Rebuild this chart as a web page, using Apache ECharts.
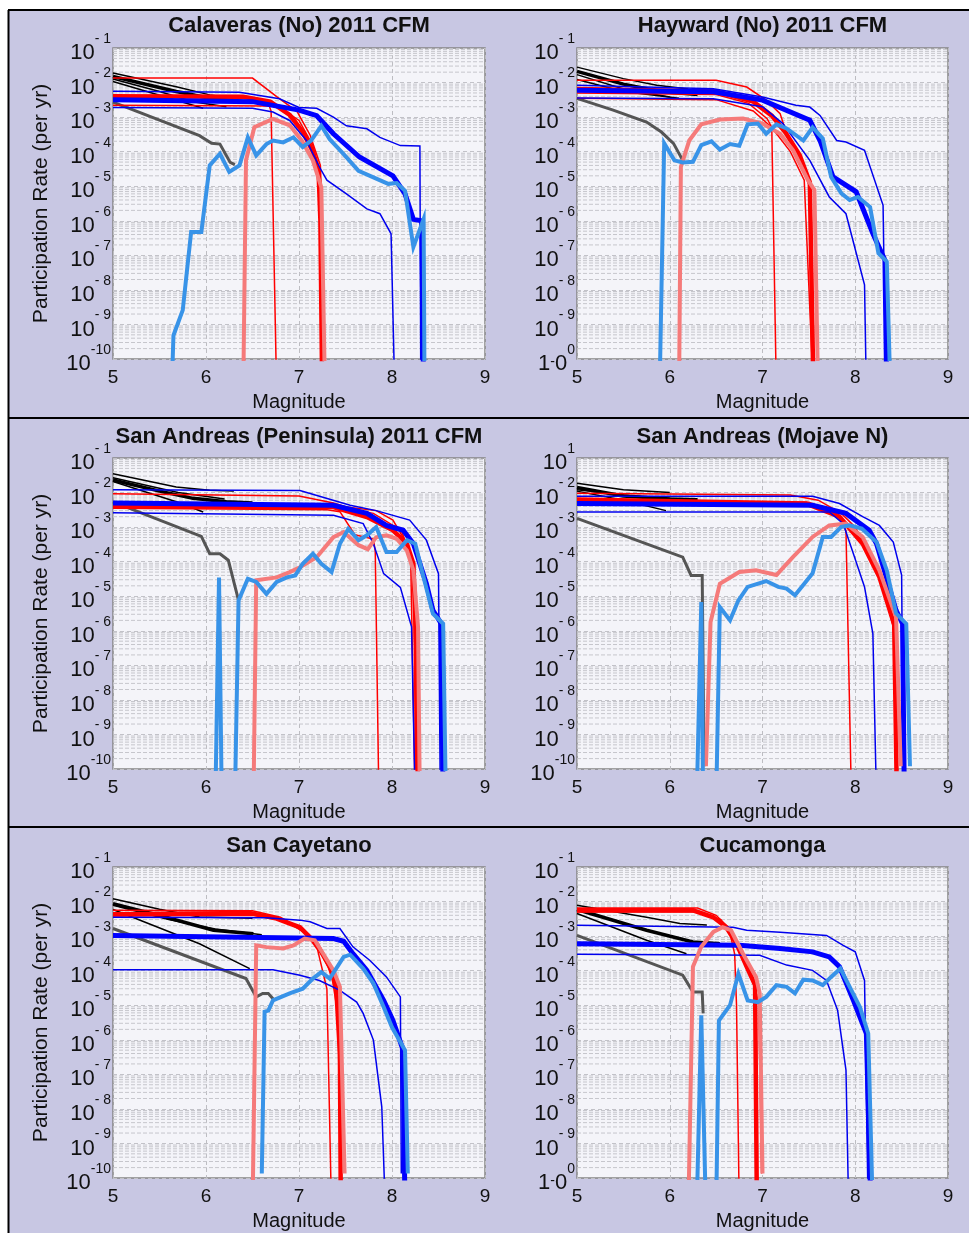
<!DOCTYPE html>
<html>
<head>
<meta charset="utf-8">
<script src="https://cdn.jsdelivr.net/npm/echarts@6.0.0/dist/echarts.min.js"></script>
<style>
html, body { margin: 0; padding: 0; background: #fff; }
#chart { width: 969px; height: 1233px; }
</style>
</head>
<body>
<div id="chart"></div>
<script>
// ---- tick labels / titles ----
var magTicks = [5, 6, 7, 8, 9];
var yExponents = [-1, -2, -3, -4, -5, -6, -7, -8, -9, -10];
var yExpText = ['- 1', '- 2', '- 3', '- 4', '- 5', '- 6', '- 7', '- 8', '- 9', '-10'];
var minorSteps = [2, 3, 4, 5, 6, 7, 8, 9];
var panelTitles = ['Calaveras (No) 2011 CFM', 'Hayward (No) 2011 CFM', 'San Andreas (Peninsula) 2011 CFM',
                   'San Andreas (Mojave N)', 'San Cayetano', 'Cucamonga'];

// ---- Calaveras (No) ----
var calBlackThin = [
  [[5,1.9e-2],[5.68,7.6e-3],[6.04,4.4e-3],[6.35,3.4e-3]],
  [[5,1.26e-2],[5.5,5.5e-3],[5.86,2.8e-3],[6.22,2.0e-3]],
  [[5,1.07e-2],[5.5,4.3e-3],[5.97,1.8e-3]]
];
var calBlackThick = [[5,1.5e-2],[5.68,5.5e-3],[6.04,3.5e-3],[6.4,2.8e-3]];
var calGray = [[5,2.7e-3],[5.93,2.9e-4],[6.06,1.74e-4],[6.15,1.66e-4],[6.26,4.9e-5],[6.31,4.2e-5]];
var calRedThin = [
  [[5,1.35e-2],[6.5,1.35e-2],[6.76,3.9e-3],[6.98,1.45e-3],[7.12,3e-4],[7.23,4e-5],[7.25,1e-6],[7.26,1e-11]],
  [[5,2.2e-3],[6.68,2.1e-3],[6.7,1.5e-3],[6.76,1e-11]],
  [[5,3e-3],[6.5,2.9e-3],[6.8,1.9e-3],[7.0,8e-4],[7.15,1.5e-4],[7.24,1e-5],[7.27,1e-11]]
];
var calRedThick = [[5,4e-3],[6.4,3.9e-3],[6.69,2.8e-3],[6.9,1.15e-3],[7.04,3.8e-4],[7.15,1e-4],[7.21,2.8e-5],[7.23,1e-6],[7.25,1e-11]];
var calBlueThin = [
  [[5,5.6e-3],[6.36,5.2e-3],[6.79,3.4e-3],[7.0,1.9e-3],[7.19,1.8e-3],[7.37,1e-3],[7.51,5.6e-4],[7.73,4.6e-4],[7.87,2.6e-4],[8.09,1.5e-4],[8.3,1.45e-4],[8.31,1e-11]],
  [[5,1.9e-3],[6.5,1.8e-3],[6.72,1.4e-3],[6.9,8e-4],[7.08,2.1e-4],[7.22,3.6e-5],[7.3,1.5e-5],[7.51,6e-6],[7.73,2.2e-6],[7.87,1.6e-6],[7.99,4.2e-7],[8.03,1e-11]]
];
var calBlueThick = [[5,3.2e-3],[6.5,2.8e-3],[7.0,1.6e-3],[7.19,1.1e-3],[7.37,3.3e-4],[7.65,7e-5],[8.01,2e-5],[8.14,6e-6],[8.23,1.1e-6],[8.32,1e-6],[8.34,1e-11]];
var calLightRed = [[6.4,1e-11],[6.43,5.6e-5],[6.52,5.1e-4],[6.72,8.9e-4],[6.9,5.8e-4],[7.03,2.1e-4],[7.15,5.5e-5],[7.24,9.3e-6],[7.28,1e-11]];
var calLightBlue = [[5.63,1e-11],[5.65,4.8e-10],[5.75,2.6e-9],[5.84,4.7e-7],[5.95,4.7e-7],[6.04,4e-5],[6.15,8.7e-5],[6.25,2.6e-5],[6.36,4e-5],[6.45,2.6e-4],[6.54,7.8e-5],[6.65,1.66e-4],[6.72,2.1e-4],[6.83,1.86e-4],[6.94,2.6e-4],[7.04,1.35e-4],[7.13,2.1e-4],[7.24,5.6e-4],[7.33,2.3e-4],[7.48,8.5e-5],[7.64,2.8e-5],[7.8,1.8e-5],[7.96,1.17e-5],[8.05,1.23e-5],[8.14,7.4e-6],[8.23,1.74e-7],[8.34,1.12e-6],[8.35,1e-11]];

// ---- Hayward (No) ----
var hayBlackThin = [
  [[5,2.8e-2],[5.5,1.3e-2],[5.86,8.3e-3],[6.2,6.5e-3]],
  [[5,1.7e-2],[5.5,6.5e-3],[6.0,3.8e-3]],
  [[5,1.23e-2],[5.5,5.5e-3],[6.1,3.5e-3]]
];
var hayBlackThick = [[5,2.1e-2],[5.5,9e-3],[5.9,5.5e-3],[6.3,4.5e-3]];
var hayGray = [[5,3.5e-3],[5.39,1.6e-3],[5.75,7.2e-4],[5.91,3.7e-4],[6.04,1.74e-4],[6.14,5.6e-5]];
var hayRedThin = [
  [[5,1.17e-2],[6.5,1.17e-2],[6.83,7.4e-3],[7.04,3.1e-3],[7.19,1.26e-3],[7.26,3.3e-4],[7.4,5.6e-5],[7.51,9.5e-6],[7.54,1e-11]],
  [[5,5e-3],[6.5,4.5e-3],[6.85,2.5e-3],[7.05,9e-4],[7.1,5e-4],[7.15,1e-11]],
  [[5,3.5e-3],[6.5,3.2e-3],[6.9,1.5e-3],[7.1,5e-4],[7.3,1e-4],[7.45,1.5e-5],[7.55,1e-11]]
];
var hayRedThick = [[5,6.5e-3],[6.5,5.5e-3],[6.9,2.8e-3],[7.1,1.1e-3],[7.25,3.5e-4],[7.4,8e-5],[7.51,1.3e-5],[7.55,1e-11]];
var hayBlueThin = [
  [[5,8.3e-3],[6.47,6.6e-3],[7.0,3.8e-3],[7.36,2.2e-3],[7.51,1.95e-3],[7.62,1.12e-3],[7.8,2.1e-4],[7.9,1.9e-4],[8.1,1.1e-4],[8.3,2.8e-6],[8.33,1e-11]],
  [[5,3.6e-3],[6.47,3.4e-3],[7.0,2e-3],[7.22,6.5e-4],[7.51,5.6e-5],[7.72,4.9e-6],[7.9,1.6e-6],[8.1,1.4e-8],[8.12,1e-11]]
];
var hayBlueThick = [[5,6e-3],[6.47,5.4e-3],[7.0,3.1e-3],[7.51,8.1e-4],[7.62,2.1e-4],[7.76,1.86e-5],[8.01,6.9e-6],[8.19,4.3e-7],[8.32,7.2e-8],[8.34,1e-11]];
var hayLightRed = [[6.1,1e-11],[6.12,3.6e-5],[6.21,2.1e-4],[6.34,6.2e-4],[6.54,8.5e-4],[6.79,9.1e-4],[7.0,6.5e-4],[7.19,3.3e-4],[7.33,1.1e-4],[7.49,1.5e-5],[7.56,7.8e-6],[7.6,1e-11]];
var hayLightBlue = [[5.89,1e-11],[5.94,1.74e-4],[6.05,5.6e-5],[6.14,4.9e-5],[6.25,5.1e-5],[6.34,1.55e-4],[6.45,2e-4],[6.54,1.15e-4],[6.65,1.66e-4],[6.75,1.48e-4],[6.84,6.2e-4],[6.95,6.5e-4],[7.04,3.3e-4],[7.15,6.2e-4],[7.26,4.7e-4],[7.44,2.1e-4],[7.54,5e-4],[7.65,2.4e-4],[7.74,1.86e-5],[7.85,6.2e-6],[7.94,4e-6],[8.03,4.9e-6],[8.16,2.5e-6],[8.25,1.15e-7],[8.34,6.6e-8],[8.38,1e-11]];

// ---- San Andreas (Peninsula) ----
var penBlackThin = [
  [[5,3.5e-2],[5.68,1.45e-2],[6.04,1.17e-2],[6.3,1.1e-2]],
  [[5,2.1e-2],[5.68,5.4e-3],[5.97,2.75e-3]],
  [[5,2.7e-2],[5.7,1e-2],[6.2,6.5e-3]]
];
var penBlackThick = [[5,2.3e-2],[5.5,1.1e-2],[5.86,6.8e-3],[6.22,5.4e-3],[6.5,5e-3]];
var penGray = [[5,5.4e-3],[5.95,5.4e-4],[6.04,1.7e-4],[6.15,1.7e-4],[6.24,1.1e-4],[6.35,7.6e-6]];
var penRedThin = [
  [[5,9.3e-3],[7.0,8e-3],[7.37,5e-3],[7.51,3.8e-3],[7.83,3e-3],[8.01,1.6e-3],[8.16,3.3e-4],[8.23,5.6e-5],[8.26,1e-11]],
  [[5,3.5e-3],[7.3,3.2e-3],[7.44,2.8e-3],[7.6,6e-4],[7.8,4.5e-4],[7.82,2e-4],[7.86,1e-11]],
  [[5,4.5e-3],[7.4,4e-3],[7.8,2.5e-3],[8.1,8e-4],[8.2,1.5e-4],[8.25,1e-11]]
];
var penRedThick = [[5,4e-3],[7.37,3.8e-3],[7.73,1.95e-3],[8.01,8.1e-4],[8.16,3.3e-4],[8.23,8.7e-5],[8.26,4e-7],[8.28,1e-11]];
var penBlueThin = [
  [[5,1.2e-2],[7.01,1.15e-2],[7.55,4.3e-3],[7.83,3e-3],[8.19,1.6e-3],[8.37,4.2e-4],[8.5,4.5e-5],[8.52,1e-11]],
  [[5,2.6e-3],[7.37,2.2e-3],[7.69,1.26e-3],[7.8,3.3e-4],[7.91,4.5e-5],[8.09,1.8e-5],[8.21,1.3e-6],[8.25,1e-11]]
];
var penBlueThick = [[5,5e-3],[7.37,4.3e-3],[7.73,2.5e-3],[7.94,1.12e-3],[8.12,8.1e-4],[8.23,3.3e-4],[8.37,2.3e-5],[8.44,3.9e-6],[8.53,1.6e-6],[8.55,1e-11]];
var penLightRed = [[6.51,1e-11],[6.54,2.9e-5],[6.76,3.5e-5],[6.9,5e-5],[7.01,6.9e-5],[7.19,1.35e-4],[7.37,5.1e-4],[7.48,7.2e-4],[7.64,3e-4],[7.74,2.3e-4],[7.83,5.1e-4],[7.94,5.8e-4],[8.05,4.6e-4],[8.16,2.1e-4],[8.23,5.6e-5],[8.28,1.3e-6],[8.3,1e-11]];
var penLightBlue = [[6.1,1e-11],[6.14,3.5e-5],[6.17,1e-11],[6.31,1e-11],[6.35,7.6e-6],[6.45,3.2e-5],[6.54,2.6e-5],[6.65,1.17e-5],[6.76,2.6e-5],[6.87,3.5e-5],[6.96,4e-5],[7.04,8.7e-5],[7.15,1.7e-4],[7.24,8.7e-5],[7.35,5e-5],[7.44,3.3e-4],[7.53,8.9e-4],[7.64,4.2e-4],[7.73,5.8e-4],[7.83,1e-3],[7.94,1.9e-4],[8.05,1.9e-4],[8.16,4.2e-4],[8.25,3.3e-4],[8.34,3.5e-5],[8.44,3.1e-6],[8.55,1.6e-6],[8.58,1e-11]];

// ---- San Andreas (Mojave N) ----
var mojBlackThin = [
  [[5,1.86e-2],[5.5,1.2e-2],[6.0,1e-2]],
  [[5,1.1e-2],[5.5,6e-3],[5.96,3e-3]],
  [[5,1.2e-2],[5.6,8e-3],[6.1,6.5e-3]]
];
var mojBlackThick = [[5,1.4e-2],[5.5,8e-3],[6.0,6.5e-3],[6.3,6.2e-3]];
var mojGray = [[5,1.8e-3],[6.14,1.35e-4],[6.23,4e-5],[6.35,4e-5],[6.37,1.2e-10]];
var mojRedThin = [
  [[5,9.5e-3],[7.3,8.5e-3],[7.6,6e-3],[7.85,2.5e-3],[8.0,1e-3],[8.15,2e-4],[8.3,2e-5],[8.42,1e-6],[8.45,1e-11]],
  [[5,5.9e-3],[7.5,5.2e-3],[7.8,2.5e-3],[7.9,8e-4],[7.96,1e-11]]
];
var mojRedThick = [[5,6.3e-3],[7.47,4.8e-3],[7.83,2e-3],[8.08,3.3e-4],[8.26,3.6e-5],[8.42,1.5e-6],[8.45,1e-11]];
var mojBlueThin = [
  [[5,7.8e-3],[7.54,7.8e-3],[7.83,4.8e-3],[8.08,2e-3],[8.26,1.12e-3],[8.41,3.7e-4],[8.5,4.1e-5],[8.52,1e-11]],
  [[5,2.75e-3],[7.72,2.75e-3],[7.87,1.26e-3],[7.98,1.7e-4],[8.1,1.86e-5],[8.19,8.3e-7],[8.23,1e-11]]
];
var mojBlueThick = [[5,4.8e-3],[7.54,4.3e-3],[7.9,2.5e-3],[8.15,8.1e-4],[8.23,3.3e-4],[8.44,3.9e-6],[8.51,1.6e-6],[8.53,1e-11]];
var mojLightRed = [[6.39,1.2e-10],[6.44,1.8e-6],[6.54,2.3e-5],[6.75,5e-5],[6.93,5.6e-5],[7.15,4.1e-5],[7.33,1.38e-4],[7.54,5.2e-4],[7.72,1.12e-3],[7.9,1.26e-3],[8.08,5.2e-4],[8.26,5.6e-5],[8.44,2.5e-6],[8.49,1.2e-10]];
var mojLightBlue = [[6.29,1e-11],[6.34,6.8e-6],[6.36,1e-11],[6.5,1e-11],[6.54,4.9e-6],[6.65,2e-6],[6.74,7.6e-6],[6.84,1.86e-5],[7.04,2.75e-5],[7.17,1.86e-5],[7.26,1.66e-5],[7.35,1.07e-5],[7.45,2.3e-5],[7.54,4.6e-5],[7.65,5.2e-4],[7.74,5.2e-4],[7.85,1.02e-3],[7.94,1.12e-3],[8.07,9.1e-4],[8.23,3.7e-4],[8.34,5.6e-5],[8.44,3.2e-6],[8.55,1.6e-6],[8.59,1.2e-10]];

// ---- San Cayetano ----
var cayBlackThin = [
  [[5,1.2e-2],[5.5,6e-3],[5.93,3.6e-3],[6.5,3.3e-3]],
  [[5,7.8e-3],[5.6,3e-3],[6.1,1.6e-3],[6.6,1.1e-3]],
  [[5,5.9e-3],[5.93,6e-4],[6.47,1.15e-4]]
];
var cayBlackThick = [[5,8.7e-3],[5.57,3.5e-3],[6.08,1.48e-3],[6.51,1.17e-3]];
var cayGray = [[5,1.66e-3],[6.43,5.9e-5],[6.54,1.74e-5],[6.61,2.2e-5],[6.67,2.2e-5],[6.72,1.55e-5]];
var cayRedThin = [
  [[5,5.6e-3],[6.5,5.4e-3],[6.8,3.5e-3],[7.05,1.5e-3],[7.2,4e-4],[7.3,3e-5],[7.35,1e-11]],
  [[5,3.8e-3],[6.5,4e-3],[6.85,2.8e-3],[7.05,1.3e-3],[7.2,5e-4],[7.35,8e-5],[7.42,5e-6],[7.45,1e-11]]
];
var cayRedThick = [[5,4.3e-3],[6.47,4.7e-3],[6.76,3.2e-3],[7.01,1.8e-3],[7.19,6e-4],[7.33,1.3e-4],[7.4,3.4e-5],[7.44,4e-7],[7.45,1e-11]];
var cayBlueThin = [
  [[5,3.5e-3],[6.65,3.4e-3],[7.01,2.9e-3],[7.12,2.6e-3],[7.3,1.66e-3],[7.44,1.66e-3],[7.58,4.9e-4],[7.76,2e-4],[7.94,6.6e-5],[8.09,1.74e-5],[8.1,1.35e-10]],
  [[5,1.07e-4],[6.72,1.07e-4],[7.01,7.4e-5],[7.22,5.2e-5],[7.44,2.7e-5],[7.62,1.23e-5],[7.69,5.8e-6],[7.8,9.8e-7],[7.89,1.15e-8],[7.93,1e-11]]
];
var cayBlueThick = [[5,1.05e-3],[7.37,8.5e-4],[7.48,7.1e-4],[7.58,3.1e-4],[7.73,1.02e-4],[7.91,1.38e-5],[8.01,3.6e-6],[8.12,5e-7],[8.14,1e-11]];
var cayLightRed = [[6.5,1e-11],[6.54,5.4e-4],[6.65,4.8e-4],[6.83,4.4e-4],[6.94,5.4e-4],[7.06,8.5e-4],[7.17,7.6e-4],[7.26,3.1e-4],[7.37,1.02e-4],[7.44,3.4e-5],[7.49,1.35e-10]];
var cayLightBlue = [[6.6,1.35e-10],[6.63,6.5e-6],[6.67,7e-6],[6.72,1.38e-5],[6.9,2.2e-5],[7.04,3e-5],[7.15,5.9e-5],[7.24,9.1e-5],[7.33,5.9e-5],[7.48,2.5e-4],[7.55,2.9e-4],[7.69,1.15e-4],[7.8,4.3e-5],[7.91,8.9e-6],[8.0,2.3e-6],[8.14,5e-7],[8.17,1.35e-10]];

// ---- Cucamonga ----
var cucBlackThin = [
  [[5,7.8e-3],[5.75,3.5e-3],[6.11,2.3e-3],[6.4,2.1e-3]],
  [[5,4.5e-3],[5.75,7.6e-4],[6.18,3.1e-4]]
];
var cucBlackThick = [[5,5.9e-3],[5.75,1.48e-3],[6.25,6.8e-4],[6.54,6e-4]];
var cucGray = [[5,1.05e-3],[6.14,7.4e-5],[6.25,2.4e-5],[6.35,2.4e-5],[6.36,5.8e-6]];
var cucRedThin = [
  [[5,6.5e-3],[6.3,6.5e-3],[6.5,4e-3],[6.65,1.6e-3],[6.78,4e-4],[6.9,6e-5],[6.96,1e-5],[6.99,1.35e-10]],
  [[5,5e-3],[6.3,5e-3],[6.55,3e-3],[6.65,1.2e-3],[6.7,3e-4],[6.72,1e-5],[6.75,1e-11]]
];
var cucRedThick = [[5,5.6e-3],[6.25,5.6e-3],[6.47,3.5e-3],[6.61,1.8e-3],[6.72,6e-4],[6.83,1.3e-4],[6.92,3.8e-5],[6.94,1e-11]];
var cucBlueThin = [
  [[5,2.05e-3],[6.68,1.8e-3],[6.83,1.48e-3],[7.19,1.3e-3],[7.69,1.05e-3],[7.87,5.4e-4],[8.0,3.5e-4],[8.1,5.2e-5],[8.14,1e-11]],
  [[5,3e-4],[6.97,2.8e-4],[7.26,1.45e-4],[7.54,1.02e-4],[7.69,5.2e-5],[7.81,7.1e-6],[7.9,1.32e-7],[7.93,1e-11]]
];
var cucBlueThick = [[5,6e-4],[6.75,5.4e-4],[7.19,4.4e-4],[7.54,3.5e-4],[7.72,2.5e-4],[7.83,1.3e-4],[7.98,1.38e-5],[8.12,1.5e-6],[8.17,1e-11]];
var cucLightRed = [[6.2,1e-11],[6.25,1.3e-4],[6.34,4.9e-4],[6.47,1.32e-3],[6.57,1.8e-3],[6.66,1.48e-3],[6.79,3.1e-4],[6.93,6.6e-5],[6.97,2.2e-5],[7.0,1.35e-10]];
var cucLightBlue = [[6.29,1e-11],[6.34,5.1e-6],[6.39,1e-11],[6.5,1e-11],[6.53,3.6e-6],[6.65,1e-5],[6.74,8.1e-5],[6.84,1.38e-5],[6.95,1.23e-5],[7.04,1.74e-5],[7.15,3.8e-5],[7.26,3.4e-5],[7.35,2.2e-5],[7.44,5.5e-5],[7.54,5.2e-5],[7.65,3.8e-5],[7.74,6.6e-5],[7.84,1.15e-4],[7.94,3.4e-5],[8.05,8.9e-6],[8.14,1.5e-6],[8.19,1e-11]];

var panels = [
  {blackThin: calBlackThin, blackThick: calBlackThick, gray: calGray, redThin: calRedThin, redThick: calRedThick, blueThin: calBlueThin, blueThick: calBlueThick, lightRed: calLightRed, lightBlue: calLightBlue},
  {blackThin: hayBlackThin, blackThick: hayBlackThick, gray: hayGray, redThin: hayRedThin, redThick: hayRedThick, blueThin: hayBlueThin, blueThick: hayBlueThick, lightRed: hayLightRed, lightBlue: hayLightBlue},
  {blackThin: penBlackThin, blackThick: penBlackThick, gray: penGray, redThin: penRedThin, redThick: penRedThick, blueThin: penBlueThin, blueThick: penBlueThick, lightRed: penLightRed, lightBlue: penLightBlue},
  {blackThin: mojBlackThin, blackThick: mojBlackThick, gray: mojGray, redThin: mojRedThin, redThick: mojRedThick, blueThin: mojBlueThin, blueThick: mojBlueThick, lightRed: mojLightRed, lightBlue: mojLightBlue},
  {blackThin: cayBlackThin, blackThick: cayBlackThick, gray: cayGray, redThin: cayRedThin, redThick: cayRedThick, blueThin: cayBlueThin, blueThick: cayBlueThick, lightRed: cayLightRed, lightBlue: cayLightBlue},
  {blackThin: cucBlackThin, blackThick: cucBlackThick, gray: cucGray, redThin: cucRedThin, redThick: cucRedThick, blueThin: cucBlueThin, blueThick: cucBlueThick, lightRed: cucLightRed, lightBlue: cucLightBlue}
];

var FONT = '"Liberation Sans", Arial, Helvetica, sans-serif';
var styles = {
  blackThin:  {color: '#000000', width: 1.5},
  blackThick: {color: '#000000', width: 3.5},
  gray:       {color: '#555555', width: 3},
  redThin:    {color: '#ff0000', width: 1.5},
  redThick:   {color: '#ff0000', width: 4.5},
  blueThin:   {color: '#0000ee', width: 1.5},
  blueThick:  {color: '#0000ff', width: 5},
  lightRed:   {color: '#f57a7a', width: 4},
  lightBlue:  {color: '#3893e8', width: 4}
};
var drawOrder = ['blackThin', 'blackThick', 'gray', 'redThin', 'redThick', 'blueThin', 'blueThick', 'lightRed', 'lightBlue'];

var colLeft = [113, 577], colWidth = [372, 371];
var rowTop = [48, 458, 867], plotH = 311;
var titleTop = [15, 426, 835];

// minor log gridlines (2..9 x 10^n), one broken polyline per panel
var minorGrid = [];
yExponents.slice(1).forEach(function (e) {
  minorSteps.forEach(function (k) {
    var v = k * Math.pow(10, e);
    minorGrid.push([magTicks[0], v], [magTicks[magTicks.length - 1], v], [7, '-']);
  });
});

var richY = {
  b: {fontSize: 22, lineHeight: 22, verticalAlign: 'bottom', color: '#111', fontFamily: FONT},
  s: {fontSize: 14, padding: [0, 0, 18, 0], verticalAlign: 'bottom', color: '#111', fontFamily: FONT},
  m: {fontSize: 14, padding: [0, 0, 6, 0], verticalAlign: 'bottom', color: '#111', fontFamily: FONT}
};

function yLabel(i) {
  return function (v) {
    var e = Math.round(Math.log(v) / Math.LN10);
    var k = yExponents.indexOf(e);
    if (k < 0) return '';
    if (e === -10 && (i === 1 || i === 5)) return '{b|1}{m|-}{b|0}{s|0}';
    var t = (i === 3 && e === -1) ? '1' : yExpText[k];
    return '{b|10}{s|' + t + '}';
  };
}

var grids = [], xAxes = [], yAxes = [], series = [], titles = [];
panels.forEach(function (p, i) {
  var col = i % 2, row = Math.floor(i / 2);
  grids.push({
    left: colLeft[col], top: rowTop[row], width: colWidth[col], height: plotH,
    show: true, backgroundColor: '#f4f4f9', borderColor: '#858585', borderWidth: 1.5
  });
  titles.push({
    text: panelTitles[i], left: colLeft[col] + colWidth[col] / 2, top: titleTop[row], textAlign: 'center', padding: 0,
    textStyle: {fontSize: 22, fontWeight: 'bold', color: '#111', fontFamily: FONT}
  });
  xAxes.push({
    gridIndex: i, type: 'value', min: magTicks[0], max: magTicks[magTicks.length - 1], interval: 1,
    axisLine: {show: false}, axisTick: {show: false},
    splitLine: {show: true, lineStyle: {type: [4, 3], color: '#bdbdc2', width: 1}},
    axisLabel: {margin: 9, fontSize: 19, color: '#111', fontFamily: FONT},
    name: 'Magnitude', nameLocation: 'middle', nameGap: 33,
    nameTextStyle: {fontSize: 20, color: '#111', fontFamily: FONT}
  });
  yAxes.push({
    gridIndex: i, type: 'log', logBase: 10, min: 1e-10, max: 1e-1, splitNumber: 9,
    axisLine: {show: false}, axisTick: {show: false},
    splitLine: {show: true, lineStyle: {type: [4, 3], color: '#c2c2c8', width: 1}},
    axisLabel: {margin: 2, formatter: yLabel(i), rich: richY},
    name: col === 0 ? 'Participation Rate (per yr)' : '', nameLocation: 'middle', nameGap: 61,
    nameTextStyle: {fontSize: 21, color: '#111', fontFamily: FONT}
  });

  series.push({
    type: 'line', xAxisIndex: i, yAxisIndex: i, data: minorGrid,
    symbol: 'none', showSymbol: false, silent: true, animation: false, connectNulls: false,
    lineStyle: {color: '#c6c6cc', width: 1, type: [4, 2]}, z: 1
  });

  drawOrder.forEach(function (key) {
    var st = styles[key];
    var lines = (key === 'blackThin' || key === 'redThin' || key === 'blueThin') ? p[key] : [p[key]];
    lines.forEach(function (d) {
      series.push({
        type: 'line', xAxisIndex: i, yAxisIndex: i, data: d,
        symbol: 'none', showSymbol: false, silent: true, animation: false,
        lineStyle: {color: st.color, width: st.width, cap: 'butt', join: 'miter'}, z: 3
      });
    });
  });
});

var chart = echarts.init(document.getElementById('chart'));
chart.setOption({
  animation: false,
  backgroundColor: '#ffffff',
  title: titles,
  grid: grids,
  xAxis: xAxes,
  yAxis: yAxes,
  series: series,
  graphic: [
    {type: 'rect', z: -100, silent: true, shape: {x: 9, y: 11, width: 960, height: 1222}, style: {fill: '#c8c7e3'}},
    {type: 'line', z: 100, silent: true, shape: {x1: 8, y1: 10, x2: 969, y2: 10}, style: {stroke: '#000', lineWidth: 2}},
    {type: 'line', z: 100, silent: true, shape: {x1: 8.5, y1: 10, x2: 8.5, y2: 1233}, style: {stroke: '#000', lineWidth: 2}},
    {type: 'line', z: 100, silent: true, shape: {x1: 8, y1: 418, x2: 969, y2: 418}, style: {stroke: '#000', lineWidth: 2}},
    {type: 'line', z: 100, silent: true, shape: {x1: 8, y1: 827, x2: 969, y2: 827}, style: {stroke: '#000', lineWidth: 2}}
  ]
});
</script>
</body>
</html>
